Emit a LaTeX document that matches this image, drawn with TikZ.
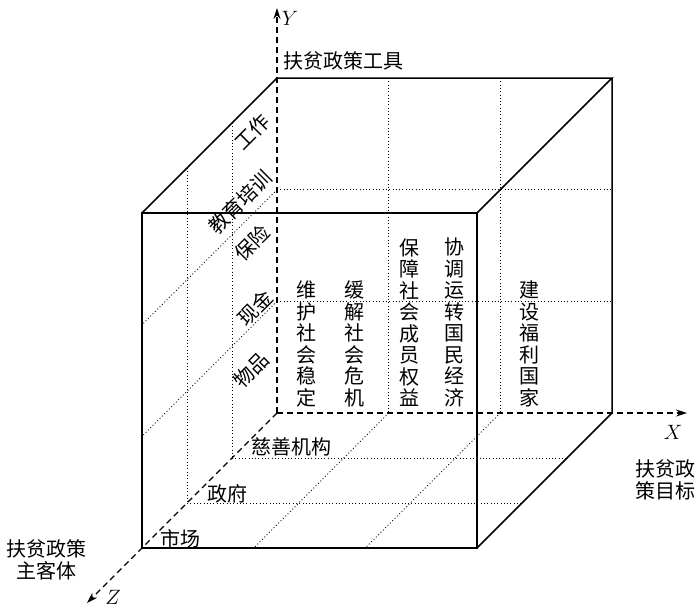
\documentclass[tikz,border=0pt]{standalone}
\usepackage{fontspec}
\newfontfamily\cjk{Noto Sans CJK SC}
\usetikzlibrary{arrows.meta,calc}

\begin{document}
\begin{tikzpicture}[
  x=1pt,y=-1pt,
  edge/.style={line width=1.5pt, line join=miter},
  axis/.style={line width=1.1pt, dash pattern=on 6pt off 4pt, -{Stealth[length=11pt,width=7pt]}},
  grid/.style={line width=0.9pt, dash pattern=on 0.9pt off 2.4pt},
  lab/.style={font=\cjk\fontsize{20}{21.5}\selectfont, inner sep=0pt, align=center},
  slant/.style={lab, rotate=45},
  col/.style={lab, anchor=south},
  ax/.style={font=\fontsize{20}{24}\selectfont, inner sep=0pt}
]
\useasboundingbox (0,0) rectangle (700,608);

% -------------------------
% Cube corners and axis tips
% -------------------------
\coordinate (O) at (277,413);
\coordinate (A) at (277,78);
\coordinate (B) at (612,78);
\coordinate (C) at (612,413);
\coordinate (E) at (142,213);
\coordinate (F) at (477,213);
\coordinate (G) at (477,548);
\coordinate (H) at (142,548);
\coordinate (Ytip) at (277,8);
\coordinate (Xtip) at (687,413);
\coordinate (Ztip) at (87,603);

% -------------------------
% Dotted grid on the hidden faces
% -------------------------
% back face
\draw[grid] ($(A)!1/3!(B)$) -- ($(O)!1/3!(C)$);
\draw[grid] ($(A)!2/3!(B)$) -- ($(O)!2/3!(C)$);
\draw[grid] ($(A)!1/3!(O)$) -- ($(B)!1/3!(C)$);
\draw[grid] ($(A)!2/3!(O)$) -- ($(B)!2/3!(C)$);
% left face
\draw[grid] ($(A)!1/3!(E)$) -- ($(O)!1/3!(H)$);
\draw[grid] ($(A)!2/3!(E)$) -- ($(O)!2/3!(H)$);
\draw[grid] ($(A)!1/3!(O)$) -- ($(E)!1/3!(H)$);
\draw[grid] ($(A)!2/3!(O)$) -- ($(E)!2/3!(H)$);
% bottom face
\draw[grid] ($(O)!1/3!(H)$) -- ($(C)!1/3!(G)$);
\draw[grid] ($(O)!2/3!(H)$) -- ($(C)!2/3!(G)$);
\draw[grid] ($(O)!1/3!(C)$) -- ($(H)!1/3!(G)$);
\draw[grid] ($(O)!2/3!(C)$) -- ($(H)!2/3!(G)$);

% -------------------------
% Axes (dashed) and visible edges
% -------------------------
\draw[axis] (O) -- (Ytip);
\draw[axis] (O) -- (Xtip);
\draw[axis] (O) -- (Ztip);

\draw[edge] (E) rectangle (G);
\draw[edge] (E) -- (A) -- (B) -- (F);
\draw[edge] (B) -- (C) -- (G);

% -------------------------
% Axis labels
% -------------------------
\node[ax] (Ylab) at (290,18) {$Y$};
\node[ax] (Xlab) at (673,432) {$X$};
\node[ax] (Zlab) at (113,597) {$Z$};

\node[lab] (tools) at (343,61) {扶贫政策工具};
\node[lab] (goal) at (665,480) {扶贫政\\策目标};
\node[lab] (subj) at (46,560) {扶贫政策\\主客体};

% tools, along the left face
\node[slant] (work) at (252,132) {工作};
\node[slant] (train) at (240,202) {教育培训};
\node[slant] (insur) at (252,243) {保险};
\node[slant] (cash) at (255,308) {现金};
\node[slant] (goods) at (251,370) {物品};

% goals, written top to bottom
\node[col] (g1) at (306,407) {维\\护\\社\\会\\稳\\定};
\node[col] (g2) at (354,407) {缓\\解\\社\\会\\危\\机};
\node[col] (g3) at (409,407) {保\\障\\社\\会\\成\\员\\权\\益};
\node[col] (g4) at (454,407) {协\\调\\运\\转\\国\\民\\经\\济};
\node[col] (g5) at (529,407) {建\\设\\福\\利\\国\\家};

% subjects, along the bottom face
\node[lab] (charity) at (291,447) {慈善机构};
\node[lab] (gov) at (227,494) {政府};
\node[lab] (market) at (180,539) {市场};

\end{tikzpicture}
\end{document}
